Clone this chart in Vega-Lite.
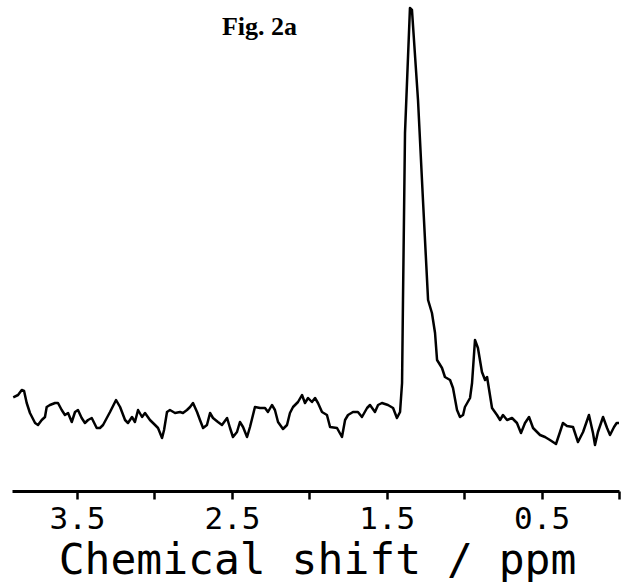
{
  "$schema": "https://vega.github.io/schema/vega-lite/v6.json",
  "width": 607,
  "height": 491,
  "autosize": "none",
  "padding": {"left": 12, "top": 0, "right": 8, "bottom": 91},
  "background": "white",
  "config": {"view": {"stroke": null}},
  "title": {"text": "Fig. 2a", "anchor": "start", "dx": 210, "dy": 61, "offset": 0, "baseline": "alphabetic", "font": "Liberation Serif", "fontSize": 26, "fontWeight": "bold", "color": "black"},
  "data": {"values": [
    {"ppm": 3.912, "i": 93.7}, {"ppm": 3.881, "i": 96}, {"ppm": 3.857, "i": 101}, {"ppm": 3.842, "i": 100},
    {"ppm": 3.825, "i": 88}, {"ppm": 3.804, "i": 78}, {"ppm": 3.771, "i": 68}, {"ppm": 3.752, "i": 66},
    {"ppm": 3.728, "i": 71}, {"ppm": 3.707, "i": 74}, {"ppm": 3.696, "i": 84}, {"ppm": 3.675, "i": 86},
    {"ppm": 3.642, "i": 88}, {"ppm": 3.623, "i": 88}, {"ppm": 3.599, "i": 81}, {"ppm": 3.578, "i": 76},
    {"ppm": 3.558, "i": 78}, {"ppm": 3.534, "i": 69}, {"ppm": 3.513, "i": 79}, {"ppm": 3.494, "i": 81},
    {"ppm": 3.470, "i": 73}, {"ppm": 3.449, "i": 68}, {"ppm": 3.429, "i": 71}, {"ppm": 3.405, "i": 73},
    {"ppm": 3.373, "i": 63}, {"ppm": 3.352, "i": 63}, {"ppm": 3.332, "i": 66}, {"ppm": 3.287, "i": 79},
    {"ppm": 3.248, "i": 91}, {"ppm": 3.222, "i": 84}, {"ppm": 3.190, "i": 71}, {"ppm": 3.171, "i": 68},
    {"ppm": 3.145, "i": 74}, {"ppm": 3.126, "i": 69}, {"ppm": 3.106, "i": 81}, {"ppm": 3.080, "i": 74},
    {"ppm": 3.061, "i": 78}, {"ppm": 3.029, "i": 71}, {"ppm": 2.996, "i": 66}, {"ppm": 2.977, "i": 63},
    {"ppm": 2.951, "i": 53}, {"ppm": 2.938, "i": 61}, {"ppm": 2.919, "i": 79}, {"ppm": 2.900, "i": 81},
    {"ppm": 2.867, "i": 78}, {"ppm": 2.835, "i": 79}, {"ppm": 2.816, "i": 78}, {"ppm": 2.790, "i": 81},
    {"ppm": 2.770, "i": 84}, {"ppm": 2.751, "i": 88}, {"ppm": 2.725, "i": 79}, {"ppm": 2.706, "i": 71},
    {"ppm": 2.686, "i": 63}, {"ppm": 2.661, "i": 66}, {"ppm": 2.641, "i": 78}, {"ppm": 2.622, "i": 73},
    {"ppm": 2.590, "i": 69}, {"ppm": 2.564, "i": 66}, {"ppm": 2.531, "i": 73}, {"ppm": 2.512, "i": 63},
    {"ppm": 2.493, "i": 54}, {"ppm": 2.467, "i": 59}, {"ppm": 2.448, "i": 69}, {"ppm": 2.428, "i": 64},
    {"ppm": 2.402, "i": 54}, {"ppm": 2.383, "i": 64}, {"ppm": 2.351, "i": 84}, {"ppm": 2.318, "i": 83},
    {"ppm": 2.286, "i": 83}, {"ppm": 2.267, "i": 79}, {"ppm": 2.241, "i": 86}, {"ppm": 2.222, "i": 81},
    {"ppm": 2.202, "i": 69}, {"ppm": 2.170, "i": 62}, {"ppm": 2.144, "i": 66}, {"ppm": 2.125, "i": 78},
    {"ppm": 2.105, "i": 84}, {"ppm": 2.073, "i": 89}, {"ppm": 2.047, "i": 96}, {"ppm": 2.028, "i": 88},
    {"ppm": 2.008, "i": 93}, {"ppm": 1.983, "i": 89}, {"ppm": 1.963, "i": 93}, {"ppm": 1.944, "i": 88},
    {"ppm": 1.918, "i": 79}, {"ppm": 1.886, "i": 76}, {"ppm": 1.866, "i": 64}, {"ppm": 1.821, "i": 63},
    {"ppm": 1.789, "i": 54}, {"ppm": 1.769, "i": 71}, {"ppm": 1.750, "i": 76}, {"ppm": 1.718, "i": 79},
    {"ppm": 1.686, "i": 79}, {"ppm": 1.660, "i": 74}, {"ppm": 1.627, "i": 83}, {"ppm": 1.608, "i": 86},
    {"ppm": 1.576, "i": 79}, {"ppm": 1.556, "i": 86}, {"ppm": 1.531, "i": 88}, {"ppm": 1.492, "i": 86},
    {"ppm": 1.459, "i": 83}, {"ppm": 1.434, "i": 73}, {"ppm": 1.414, "i": 79}, {"ppm": 1.401, "i": 108},
    {"ppm": 1.395, "i": 191}, {"ppm": 1.382, "i": 358}, {"ppm": 1.350, "i": 483}, {"ppm": 1.337, "i": 481},
    {"ppm": 1.298, "i": 391}, {"ppm": 1.266, "i": 291}, {"ppm": 1.233, "i": 191}, {"ppm": 1.208, "i": 178},
    {"ppm": 1.188, "i": 158}, {"ppm": 1.175, "i": 131}, {"ppm": 1.143, "i": 123}, {"ppm": 1.124, "i": 114},
    {"ppm": 1.091, "i": 111}, {"ppm": 1.072, "i": 103}, {"ppm": 1.046, "i": 81}, {"ppm": 1.027, "i": 74},
    {"ppm": 1.007, "i": 76}, {"ppm": 0.995, "i": 84}, {"ppm": 0.962, "i": 93}, {"ppm": 0.949, "i": 108},
    {"ppm": 0.930, "i": 151}, {"ppm": 0.911, "i": 143}, {"ppm": 0.885, "i": 119}, {"ppm": 0.865, "i": 111},
    {"ppm": 0.852, "i": 114}, {"ppm": 0.820, "i": 83}, {"ppm": 0.788, "i": 76}, {"ppm": 0.768, "i": 71},
    {"ppm": 0.749, "i": 76}, {"ppm": 0.723, "i": 71}, {"ppm": 0.691, "i": 73}, {"ppm": 0.659, "i": 68},
    {"ppm": 0.633, "i": 58}, {"ppm": 0.607, "i": 68}, {"ppm": 0.581, "i": 74}, {"ppm": 0.555, "i": 63},
    {"ppm": 0.510, "i": 56}, {"ppm": 0.478, "i": 54}, {"ppm": 0.446, "i": 51}, {"ppm": 0.407, "i": 47},
    {"ppm": 0.381, "i": 59}, {"ppm": 0.362, "i": 68}, {"ppm": 0.336, "i": 65}, {"ppm": 0.297, "i": 64},
    {"ppm": 0.265, "i": 49}, {"ppm": 0.232, "i": 59}, {"ppm": 0.194, "i": 76}, {"ppm": 0.168, "i": 58},
    {"ppm": 0.155, "i": 46}, {"ppm": 0.136, "i": 59}, {"ppm": 0.103, "i": 74}, {"ppm": 0.077, "i": 63},
    {"ppm": 0.058, "i": 56}, {"ppm": 0.032, "i": 64}, {"ppm": 0.015, "i": 68}, {"ppm": 0.0, "i": 68}
  ]},
  "mark": {"type": "line", "color": "black", "strokeWidth": 2.5, "strokeJoin": "round", "interpolate": "linear"},
  "encoding": {
    "x": {
      "field": "ppm", "type": "quantitative",
      "scale": {"domain": [3.92, 0], "nice": false, "zero": false},
      "axis": {
        "title": "Chemical shift / ppm",
        "values": [3.5, 3.0, 2.5, 2.0, 1.5, 1.0, 0.5, 0.0],
        "labelExpr": "indexof([3.5, 2.5, 1.5, 0.5], datum.value) >= 0 ? format(datum.value, '.1f') : ''",
        "grid": false,
        "domainColor": "black", "domainWidth": 3,
        "tickColor": "black", "tickWidth": 2.5, "tickSize": 8,
        "labelFont": "DejaVu Sans Mono", "labelFontSize": 31, "labelColor": "black", "labelPadding": 5,
        "labelFlush": false, "labelOverlap": false,
        "titleFont": "DejaVu Sans Mono", "titleFontSize": 43, "titleFontWeight": "normal", "titleColor": "black",
        "titleBaseline": "alphabetic", "titleY": 82, "titleX": 305
      }
    },
    "y": {
      "field": "i", "type": "quantitative",
      "scale": {"domain": [0, 491], "nice": false},
      "axis": null
    }
  }
}
